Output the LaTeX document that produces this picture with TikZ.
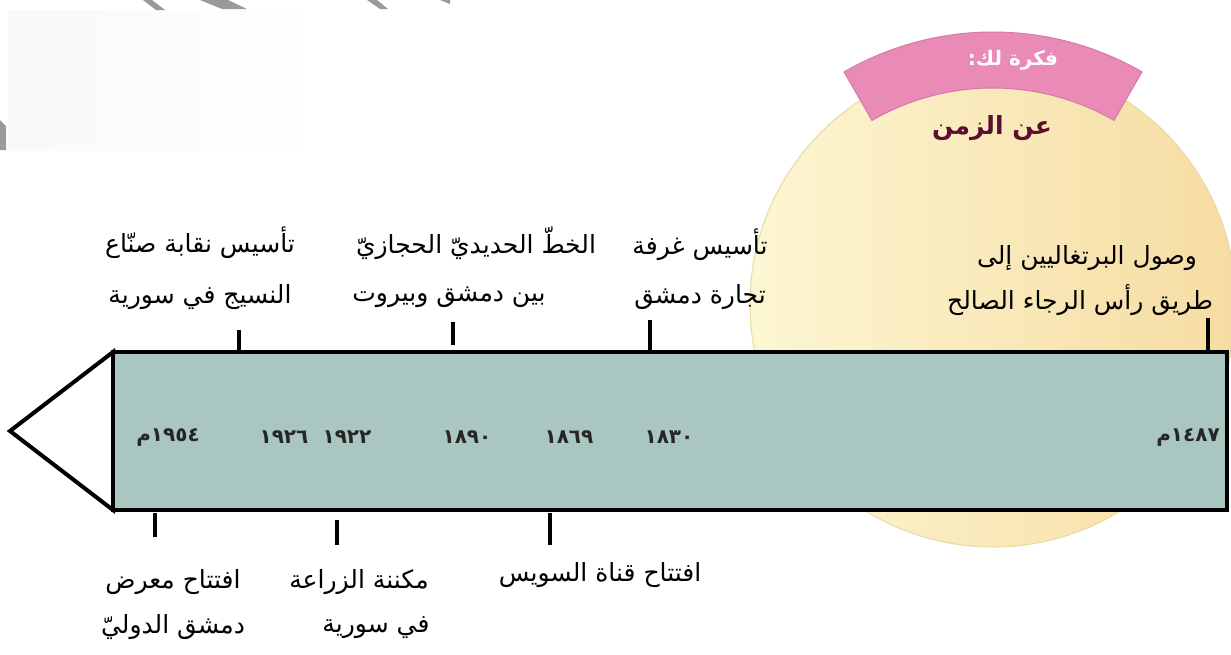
\documentclass[tikz,border=0pt]{standalone}
\usepackage{fontspec}
\setmainfont{DejaVu Sans}
\newfontfamily\arabicfont[Script=Arabic]{DejaVu Sans}
\TeXXeTstate=1
\usetikzlibrary{calc}
\definecolor{barfill}{HTML}{A9C7C0}
\definecolor{sunL}{HTML}{FCF6D2}
\definecolor{sunR}{HTML}{F6DCA2}
\definecolor{sunEdge}{HTML}{EAD9A6}
\definecolor{pinkband}{HTML}{EA8AB6}
\definecolor{pinkedge}{HTML}{D77AA5}
\definecolor{maroon}{HTML}{5A0F2E}
\definecolor{wmark}{HTML}{9A9A9A}
\begin{document}
\begin{tikzpicture}[x=1pt,y=-1pt,
  lbl/.style={font=\arabicfont\fontsize{25}{25}\selectfont, inner sep=0pt, text=black},
  yr/.style={font=\arabicfont\bfseries\fontsize{20}{20}\selectfont, inner sep=0pt, text=black!85},
  tickline/.style={line width=4pt, draw=black},
  frame/.style={line width=4pt, draw=black, line join=miter}]
\useasboundingbox (0,0) rectangle (1231,654);
\fill[white] (0,0) rectangle (1231,654);
\shade[left color=gray!5, right color=white] (8,10) rectangle (330,150);
% watermark strokes
\fill[wmark] (143,0) -- (152,0) -- (165,10) -- (156,10) -- cycle;
\fill[wmark] (200,0) -- (228,0) -- (247,9) -- (222,9) -- cycle;
\fill[wmark] (367,0) -- (377,0) -- (388,9) -- (380,9) -- cycle;
\fill[wmark] (440,0) -- (450,0) -- (450,4) -- cycle;
\fill[wmark] (0,120) -- (6,126) -- (6,150) -- (0,150) -- cycle;
% sun circle
\shade[left color=sunL, right color=sunR, draw=sunEdge, line width=1pt] (993,304) circle[radius=243];
% pink band
\coordinate (sc) at (993,330);
\filldraw[fill=pinkband, draw=pinkedge, line width=1pt]
  ($(sc)+(-60:298)$) arc[start angle=-60, end angle=-120, radius=298]
  -- ($(sc)+(-120:242)$) arc[start angle=-120, end angle=-60, radius=242] -- cycle;
\node[font=\arabicfont\bfseries\fontsize{20}{20}\selectfont, text=white, inner sep=0pt] (idea) at (1013,60) {\beginR فكرة لك:\endR};
\node[font=\arabicfont\bfseries\fontsize{25}{25}\selectfont, text=maroon, inner sep=0pt] (about) at (992,128) {\beginR عن الزمن\endR};
% timeline bar
\filldraw[fill=white, frame] (113,352) -- (10,431) -- (113,510) -- cycle;
\filldraw[fill=barfill, frame] (113,352) rectangle (1227,510);
% years
\node[yr] (y1954) at (168,437) {\beginR ١٩٥٤م\endR};
\node[yr] (y1926) at (284,437) {\beginR ١٩٢٦\endR};
\node[yr] (y1922) at (347,437) {\beginR ١٩٢٢\endR};
\node[yr] (y1890) at (467,437) {\beginR ١٨٩٠\endR};
\node[yr] (y1869) at (569,437) {\beginR ١٨٦٩\endR};
\node[yr] (y1830) at (669,437) {\beginR ١٨٣٠\endR};
\node[yr] (y1487) at (1188,437) {\beginR ١٤٨٧م\endR};
% top labels
\node[lbl] (l1a) at (200,243) {\beginR تأسيس نقابة صنّاع\endR};
\node[lbl] (l1b) at (200,297) {\beginR النسيج في سورية\endR};
\node[lbl] (l2a) at (476,243) {\beginR الخطّ الحديديّ الحجازيّ\endR};
\node[lbl] (l2b) at (449,297) {\beginR بين دمشق وبيروت\endR};
\node[lbl] (l3a) at (700,245) {\beginR تأسيس غرفة\endR};
\node[lbl] (l3b) at (700,297) {\beginR تجارة دمشق\endR};
\node[lbl] (l4a) at (1087,258) {\beginR وصول البرتغاليين إلى\endR};
\node[lbl] (l4b) at (1080,300) {\beginR طريق رأس الرجاء الصالح\endR};
% bottom labels
\node[lbl] (l5a) at (173,582) {\beginR افتتاح معرض\endR};
\node[lbl] (l5b) at (173,627) {\beginR دمشق الدوليّ\endR};
\node[lbl] (l6a) at (359,582) {\beginR مكننة الزراعة\endR};
\node[lbl] (l6b) at (376,628) {\beginR في سورية\endR};
\node[lbl] (l7a) at (600,575) {\beginR افتتاح قناة السويس\endR};
% ticks
\coordinate (t1a) at (239,330); \coordinate (t1b) at (239,352);
\coordinate (t2a) at (453,322); \coordinate (t2b) at (453,345);
\coordinate (t3a) at (650,320); \coordinate (t3b) at (650,352);
\coordinate (t4a) at (1208,318); \coordinate (t4b) at (1208,352);
\coordinate (b1a) at (155,513); \coordinate (b1b) at (155,537);
\coordinate (b2a) at (337,520); \coordinate (b2b) at (337,545);
\coordinate (b3a) at (550,513); \coordinate (b3b) at (550,545);
\draw[tickline] (t1a) -- (t1b);
\draw[tickline] (t2a) -- (t2b);
\draw[tickline] (t3a) -- (t3b);
\draw[tickline] (t4a) -- (t4b);
\draw[tickline] (b1a) -- (b1b);
\draw[tickline] (b2a) -- (b2b);
\draw[tickline] (b3a) -- (b3b);
\end{tikzpicture}
\end{document}
